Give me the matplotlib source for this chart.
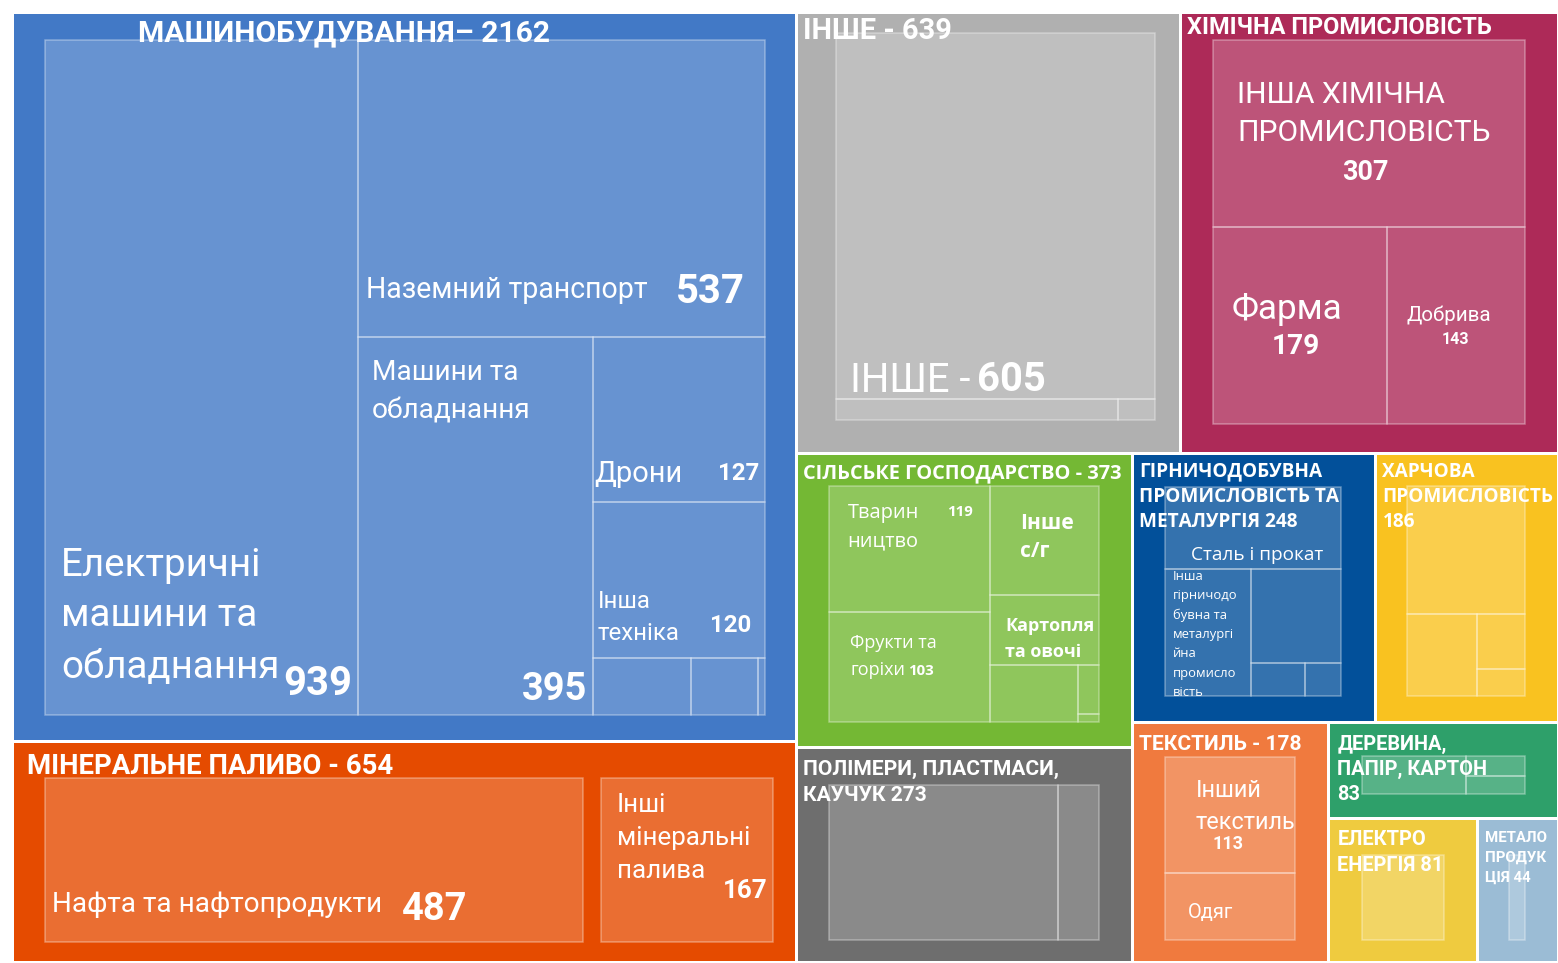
import matplotlib
matplotlib.use("Agg")
import matplotlib.pyplot as plt
from matplotlib.patches import Rectangle
from matplotlib import font_manager as fm

# top-level sectors, in layout order
sector_names = ['МАШИНОБУДУВАННЯ', 'МІНЕРАЛЬНЕ ПАЛИВО', 'ІНШЕ', 'ХІМІЧНА ПРОМИСЛОВІСТЬ',
                'СІЛЬСЬКЕ ГОСПОДАРСТВО', 'ПОЛІМЕРИ, ПЛАСТМАСИ, КАУЧУК',
                'ГІРНИЧОДОБУВНА ПРОМИСЛОВІСТЬ ТА МЕТАЛУРГІЯ', 'ХАРЧОВА ПРОМИСЛОВІСТЬ',
                'ТЕКСТИЛЬ', 'ДЕРЕВИНА, ПАПІР, КАРТОН', 'ЕЛЕКТРОЕНЕРГІЯ', 'МЕТАЛОПРОДУКЦІЯ']
sector_values = [2162, 654, 639, 629, 373, 273, 248, 186, 178, 83, 81, 44]
sector_colors = ['#4279c6', '#e54b00', '#b0b0b0', '#ad2a58', '#74b834', '#6e6e6e',
                 '#02509a', '#f9c220', '#f07a3e', '#2ea06a', '#efcb3f', '#9bbcd5']

# second level (unlabelled pieces)
mach_sub = [939, 537, 395, 127, 120, 25, 17, 2]
fuel_sub = [487, 167]
other_sub = [605, 30, 4]
chem_sub = [307, 179, 143]
agri_sub = [119, 103, 70, 45, 29, 6, 1]
poly_sub = [231, 42]
mine_sub = [98, 73, 57, 12, 8]
food_sub = [113, 43, 20, 10]
text_sub = [113, 65]
wood_sub = [53, 16, 14]
elec_sub = [81]
metal_sub = [44]
subs = [mach_sub, fuel_sub, other_sub, chem_sub, agri_sub, poly_sub,
        mine_sub, food_sub, text_sub, wood_sub, elec_sub, metal_sub]

# split structure: nested groups, direction alternates (True = side by side)
top_tree = [[0, 1], [[2, 3], [[4, 5], [[6, 7], [8, [9, [10, 11]]]]]]]
sub_trees = [([0, [1, [2, [3, 4, [5, 6, 7]]]]], True), ([0, 1], True),
             ([0, [1, 2]], False), ([0, [1, 2]], False),
             ([[0, 1], [2, 3, [4, [5, 6]]]], True), ([0, 1], True),
             ([0, [1, [2, [3, 4]]]], False), ([0, [1, [2, 3]]], False),
             ([0, 1], False), ([0, [1, 2]], True), ([0], True), ([0], True)]
# inner padding (left, top, right, bottom) in px, gap between inner cells
insets = [(33, 28, 31, 26), (24, 37, 14, 20), (40, 21, 25, 33), (33, 28, 33, 29),
          (33, 33, 33, 25), (33, 38, 33, 22), (33, 34, 34, 26), (32, 33, 33, 26),
          (33, 35, 33, 22), (34, 34, 33, 24), (34, 37, 33, 22), (32, 37, 33, 22)]
cell_gap = [0, 18, 0, 0, 0, 0, 0, 0, 0, 0, 0, 0]


def pick(*names):
    for n in names:
        try:
            fm.findfont(fm.FontProperties(family=n), fallback_to_default=False)
            return n
        except ValueError:
            pass
    return 'DejaVu Sans'


COND = pick('Roboto', 'Liberation Sans')
SANS = pick('Open Sans', 'Noto Sans', 'DejaVu Sans')

B, N = 'bold', 'normal'
# labels per sector: text, dx, dy (first line centre, px from block corner), size px, weight, font, ha, line step
labels = {
    0: [("МАШИНОБУДУВАННЯ– 2162", 126, 21, 30, B, COND), ("Наземний транспорт", 354, 278, 28.5, N, COND),
        ("537", 664, 280, 40, B, COND), ("Машини та\nобладнання", 360, 361, 28, N, COND, 'left', 38),
        ("Дрони", 582, 462, 29, N, COND), ("127", 706, 462, 24, B, COND),
        ("Інша\nтехніка", 586, 589, 24, N, COND, 'left', 32), ("120", 698, 613, 24, B, COND),
        ("Електричні\nмашини та\nобладнання", 49, 553, 38.5, N, COND, 'left', 51),
        ("939", 271, 672, 40, B, COND), ("395", 510, 677, 38, B, COND)],
    1: [("МІНЕРАЛЬНЕ ПАЛИВО - 654", 15, 25, 27.5, B, COND), ("Нафта та нафтопродукти", 40, 163, 28, N, COND),
        ("487", 390, 168, 38, B, COND), ("Інші\nмінеральні\nпалива", 605, 64, 26, N, COND, 'left', 33),
        ("167", 711, 150, 26, B, COND)],
    2: [("ІНШЕ - 639", 7, 19, 29, B, COND), ("ІНШЕ - ", 54, 368, 40, N, COND), ("605", 181, 368, 40, B, COND)],
    3: [("ХІМІЧНА ПРОМИСЛОВІСТЬ", 7, 15, 23.5, B, COND),
        ("ІНША ХІМІЧНА\nПРОМИСЛОВІСТЬ", 57, 83, 30, N, COND, 'left', 38),
        ("307", 185, 160, 27, B, COND, 'center'), ("Фарма", 51, 298, 35, N, COND),
        ("179", 116, 334, 28, B, COND, 'center'), ("Добрива", 226, 303, 20.5, N, COND),
        ("143", 275, 328, 16, B, COND, 'center')],
    4: [("СІЛЬСЬКЕ ГОСПОДАРСТВО - 373", 7, 21, 20, B, SANS),
        ("Тварин\nництво", 51, 60, 20, N, SANS, 'left', 29), ("119", 151, 59, 15, B, SANS),
        ("Інше\nс/г", 224, 71, 21, B, SANS, 'left', 28),
        ("Картопля\nта овочі", 209, 173, 18, B, SANS, 'left', 26),
        ("Фрукти та\nгоріхи", 54, 190, 18, N, SANS, 'left', 27), ("103", 112, 218, 15, B, SANS)],
    5: [("ПОЛІМЕРИ, ПЛАСТМАСИ,\nКАУЧУК 273", 7, 23, 21, B, COND, 'left', 26)],
    6: [("ГІРНИЧОДОБУВНА\nПРОМИСЛОВІСТЬ ТА\nМЕТАЛУРГІЯ 248", 7, 19, 19, B, SANS, 'left', 25),
        ("Сталь і прокат", 59, 102, 19, N, SANS),
        ("Інша\nгірничодо\nбувна та\nметалургі\nйна\nпромисло\nвість", 41, 124, 13, N, SANS, 'left', 19.3)],
    7: [("ХАРЧОВА\nПРОМИСЛОВІСТЬ\n186", 7, 19, 19, B, SANS, 'left', 25)],
    8: [("ТЕКСТИЛЬ - 178", 7, 22, 21, B, COND), ("Інший\nтекстиль", 64, 68, 23.5, N, COND, 'left', 32),
        ("113", 80, 122, 18, B, COND), ("Одяг", 56, 190, 20, N, COND)],
    9: [("ДЕРЕВИНА,\nПАПІР, КАРТОН\n83", 9, 22, 20, B, COND, 'left', 25)],
    10: [("ЕЛЕКТРО\nЕНЕРГІЯ 81", 9, 22, 20, B, COND, 'left', 26)],
    11: [("МЕТАЛО\nПРОДУК\nЦІЯ 44", 8, 20, 15, B, COND, 'left', 20)],
}


def leaves(node):
    return [node] if isinstance(node, int) else [i for n in node for i in leaves(n)]


def layout(node, vals, x, y, w, h, side, out):
    if isinstance(node, int):
        out[node] = (x, y, w, h)
        return
    tot = sum(vals[i] for i in leaves(node))
    pos = 0.0
    for n in node:
        s = sum(vals[i] for i in leaves(n)) / tot
        if side:
            layout(n, vals, x + pos * w, y, s * w, h, not side, out)
        else:
            layout(n, vals, x, y + pos * h, w, s * h, not side, out)
        pos += s


W, H = 1546, 950
PT = 72 / 100  # px -> pt at dpi 100

fig = plt.figure(figsize=(15.58, 9.63), dpi=100)
ax = fig.add_axes([12 / 1558, 1 / 963, W / 1558, H / 963])
ax.set_xlim(0, W)
ax.set_ylim(H, 0)
ax.axis('off')

blocks = {}
layout(top_tree, sector_values, 0, 0, W, H, True, blocks)

for k, (bx, by, bw, bh) in blocks.items():
    ax.add_patch(Rectangle((bx, by), bw, bh, facecolor=sector_colors[k],
                           edgecolor='white', lw=3 * PT, zorder=1))
    l, t, r, b = insets[k]
    cells = {}
    tree, side = sub_trees[k]
    layout(tree, subs[k], bx + l, by + t, bw - l - r, bh - t - b, side, cells)
    g = cell_gap[k] / 2
    for cx, cy, cw, ch in cells.values():
        ax.add_patch(Rectangle((cx + g, cy), cw - 2 * g, ch, facecolor=(1, 1, 1, 0.2),
                               edgecolor=(1, 1, 1, 0.35), lw=1.5 * PT, zorder=2))
    for lab in labels.get(k, []):
        txt, dx, dy, size, weight, fam = lab[:6]
        ha = lab[6] if len(lab) > 6 else 'left'
        step = lab[7] if len(lab) > 7 else 0
        for j, line in enumerate(txt.split('\n')):
            ax.text(bx + dx, by + dy + j * step, line, color='white', fontsize=size * PT,
                    fontweight=weight, family=fam, ha=ha, va='center', zorder=3)

fig.savefig('out.png', dpi=100, facecolor='white')
